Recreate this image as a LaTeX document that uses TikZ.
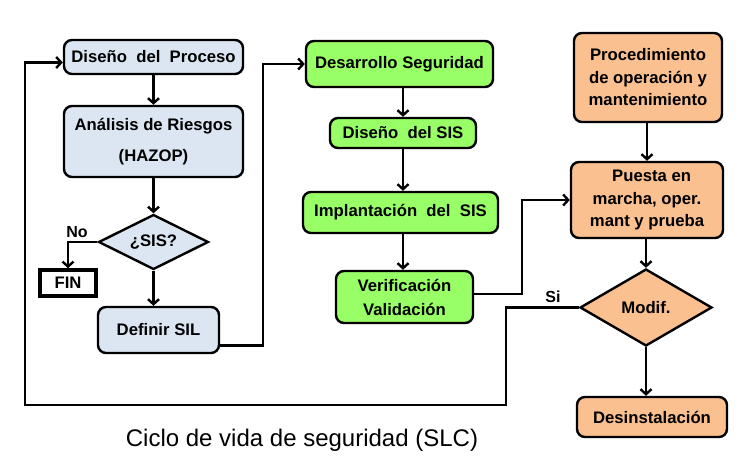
\documentclass[tikz,border=0pt]{standalone}
\usepackage{fontspec}
\setmainfont{Liberation Sans}
\usetikzlibrary{shapes.geometric,arrows.meta,calc}
\definecolor{bluef}{HTML}{DCE6F2}
\definecolor{greenf}{HTML}{99FF66}
\definecolor{orangef}{HTML}{FAC090}
\tikzset{
  box/.style={draw=black, line width=2.4pt, rounded corners=8pt, align=center, inner sep=0pt,
     font=\fontsize{16.7}{22.5}\selectfont\bfseries},
  bluebox/.style={box, fill=bluef},
  greenbox/.style={box, fill=greenf},
  orangebox/.style={box, fill=orangef},
  decision/.style={diamond, draw=black, line width=2.4pt, inner sep=0pt, aspect=2,
     font=\fontsize{16.7}{20}\selectfont\bfseries},
  conn/.style={line width=2.6pt, -{Straight Barb[length=5pt,width=11pt,line width=2.4pt]}},
  line/.style={line width=2.6pt},
  lbl/.style={font=\fontsize{16}{19}\selectfont\bfseries},
}
\begin{document}
\begin{tikzpicture}[x=1pt,y=-1pt]
\useasboundingbox (0,0) rectangle (745,472);
% left column
\node[bluebox, minimum width=179pt, minimum height=34pt] (dp) at (153.5,57) {Diseño\ \ del\ \ Proceso};
\node[bluebox, minimum width=179pt, minimum height=71pt] (ar) at (153.5,141.5) {Análisis de Riesgos\\[8pt](HAZOP)};
\node[decision, fill=bluef, minimum width=110pt, minimum height=55pt] (sis) at (153.5,242) {¿SIS?};
\node[draw=black, line width=3.6pt, minimum width=56pt, minimum height=26pt, inner sep=0pt,
      font=\fontsize{16.7}{20}\selectfont\bfseries] (fin) at (68,283) {FIN};
\node[bluebox, minimum width=121pt, minimum height=46pt] (sil) at (158.5,330) {Definir SIL};
% middle column
\node[greenbox, minimum width=187pt, minimum height=46pt] (ds) at (399.5,64) {Desarrollo Seguridad};
\node[greenbox, minimum width=146pt, minimum height=30pt] (dsis) at (403,133) {Diseño\ \ del SIS};
\node[greenbox, minimum width=195pt, minimum height=41pt] (imp) at (400.5,212.5) {Implantación\ \ del\ \ SIS};
\node[greenbox, minimum width=137pt, minimum height=52pt] (ver) at (404.5,297) {Verificación\\[1.5pt]Validación};
% right column
\node[orangebox, minimum width=148pt, minimum height=89pt] (proc) at (648,77.5) {Procedimiento\\de operación y\\mantenimiento};
\node[orangebox, minimum width=152pt, minimum height=76pt] (pm) at (647,200) {\ \ Puesta en\\marcha, oper.\\mant y prueba};
\node[decision, fill=orangef, minimum width=132pt, minimum height=77pt] (mod) at (646,307.5) {Modif.};
\node[orangebox, minimum width=150pt, minimum height=40pt] (des) at (652,417) {Desinstalación};
% caption
\node[font=\fontsize{24}{27}\selectfont] (cap) at (302,440) {Ciclo de vida de seguridad (SLC)};
% helper coordinates
\coordinate (k1) at (263,64);
\coordinate (k2) at (522,200);
\coordinate (k3) at (506,405);
\coordinate (k4) at (25,405);
% connectors
\draw[conn] (dp) -- (ar);
\draw[conn] (ar.south) -- (sis.north);
\draw[conn] (sis.west) -| (fin.north);
\node[lbl] (no) at (77,232) {No};
\draw[conn] (sis.south) -- (sis.south |- sil.north);
\draw[conn] ($(sil.south east)+(0,-9)$) -| (k1) -- (ds.west);
\draw[conn] (dsis.north |- ds.south) -- (dsis.north);
\draw[conn] (dsis.south) -- (dsis.south |- imp.north);
\draw[conn] (dsis.south |- imp.south) -- (dsis.south |- ver.north);
\draw[conn] ($(ver.east)+(0,-3)$) -| (k2) -- (pm.west);
\draw[conn] (pm.north |- proc.south) -- (pm.north);
\draw[conn] (mod.north |- pm.south) -- (mod.north);
\draw[conn] (mod.south) -- (mod.south |- des.north);
\draw[conn] (mod.west) -| (k3) -- (k4) |- ($(dp.west)+(0,5.5)$);
\node[lbl] (si) at (553,297) {Si};
\end{tikzpicture}
\end{document}
